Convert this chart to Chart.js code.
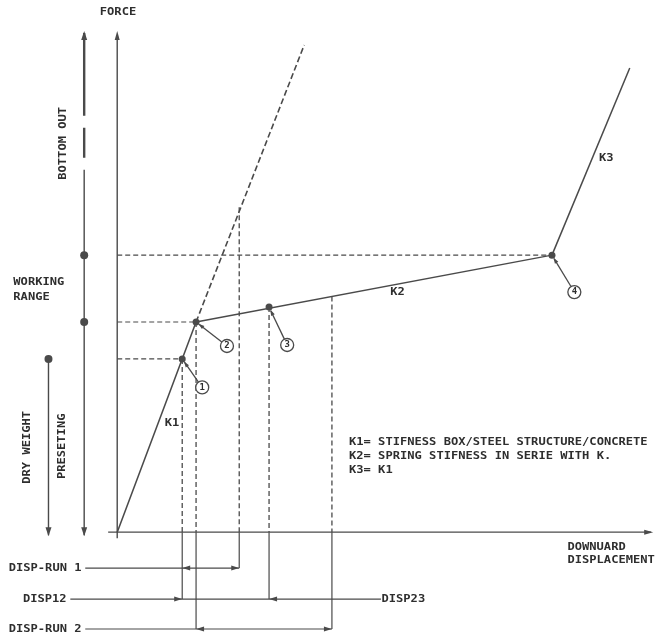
<!DOCTYPE html>
<html>
<head>
<meta charset="utf-8">
<script src="https://cdn.jsdelivr.net/npm/chart.js@4/dist/chart.umd.min.js"></script>
<style>
    html, body { margin: 0; padding: 0; background: #fff; overflow: hidden; }
    canvas { display: block; }
</style>
</head>
<body>
<canvas id="forceChart" width="656" height="639"></canvas>
<script>
// 数据 (位移 / 力, 任意单位)
const pointNames = ['1', '2', '3', '4'];
const pointX = [12.2, 14.8, 28.5, 81.6];
const pointY = [34.7, 42.1, 45.1, 55.5];
const k3End = [96.2, 93.0];
const k1DashEnd = [35.1, 97.6];
const calloutX = [15.95, 20.6, 31.9, 85.8];
const calloutY = [29.0, 37.3, 37.5, 48.1];

// 竖直辅助线
const guideX = [12.2, 14.8, 22.9, 28.5, 40.3];
const guideTop = [34.7, 42.1, 65.1, 45.1, 47.2];
const guideBottom = [-13.4, -19.4, -7.2, -13.4, -19.4];

// 位移标注
const dimLabels = ['DISP-RUN 1', 'DISP12', 'DISP-RUN 2'];
const dimY = [-7.2, -13.4, -19.4];
const dimStart = [-6.0, -8.8, -6.0];
const dimEnd = [22.9, 49.5, 40.3];
const dimFrom = [12.2, 12.2, 14.8];
const dimTo = [22.9, 28.5, 40.3];
const dimOutward = [true, false, true];

// 左侧范围
const rangeX = [-6.2, -12.9];
const bottomOutSegs = [[100, 83.4], [81.0, 75.0], [72.6, -0.6]];
const rangeDots = [55.5, 42.1];
const dryWeightTop = 34.7;

const INK = '#4a4a4a';
const TEXT = '#2e2e2e';

function seg(data, opts = {}) {
    return {
        data: data.map(p => ({ x: p[0], y: p[1] })),
        showLine: true,
        borderColor: INK,
        borderWidth: opts.width || 1.5,
        borderDash: opts.dash || [],
        pointRadius: 0,
        clip: false,
        order: 2
    };
}

const datasets = [];
// 坐标轴
datasets.push(seg([[0, -1.2], [0, 99.6]], { width: 1.4 }));
datasets.push(seg([[-1.7, 0], [100.2, 0]], { width: 1.4 }));
// K1, K2, K3
datasets.push(seg([[0, 0], [pointX[1], pointY[1]]]));
datasets.push(seg([[pointX[1], pointY[1]], [pointX[3], pointY[3]]]));
datasets.push(seg([[pointX[3], pointY[3]], k3End]));
// K1 延长虚线
datasets.push(seg([[pointX[1], pointY[1]], k1DashEnd], { dash: [6, 3], width: 1.6 }));
// 水平虚线
[0, 1, 3].forEach(i => {
    datasets.push(seg([[0, pointY[i]], [pointX[i], pointY[i]]], { dash: [5, 3], width: 1.2 }));
});
// 竖直虚线 + 轴下实线
guideX.forEach((x, i) => {
    datasets.push(seg([[x, guideTop[i]], [x, 0]], { dash: [5, 3], width: 1.3 }));
    datasets.push(seg([[x, 0], [x, guideBottom[i]]], { width: 1.2 }));
});
// 位移标注线
dimY.forEach((y, i) => {
    datasets.push(seg([[dimStart[i], y], [dimEnd[i], y]], { width: 1.2 }));
});
// 左侧范围线
bottomOutSegs.forEach((s, i) => {
    datasets.push(seg([[rangeX[0], s[0]], [rangeX[0], s[1]]], { width: i < 2 ? 2.4 : 1.4 }));
});
datasets.push(seg([[rangeX[1], dryWeightTop], [rangeX[1], -0.6]], { width: 1.4 }));
// 点
datasets.push({
    data: pointX.map((x, i) => ({ x, y: pointY[i] })),
    pointRadius: 3.5,
    pointBackgroundColor: INK,
    pointBorderWidth: 0,
    showLine: false,
    order: 1
});
datasets.push({
    data: rangeDots.map(y => ({ x: rangeX[0], y })).concat([{ x: rangeX[1], y: dryWeightTop }]),
    pointRadius: 4,
    pointBackgroundColor: INK,
    pointBorderWidth: 0,
    showLine: false,
    clip: false,
    order: 1
});

// 注释插件：箭头、编号圆圈、文字
const annotations = {
    id: 'annotations',
    afterDatasetsDraw(chart) {
        const ctx = chart.ctx;
        const xs = chart.scales.x, ys = chart.scales.y;
        const px = v => xs.getPixelForValue(v);
        const py = v => ys.getPixelForValue(v);

        function arrow(x, y, angle, len = 8, half = 3) {
            ctx.save();
            ctx.translate(x, y);
            ctx.rotate(angle);
            ctx.beginPath();
            ctx.moveTo(0, 0);
            ctx.lineTo(-len, -half);
            ctx.lineTo(-len, half);
            ctx.closePath();
            ctx.fillStyle = INK;
            ctx.fill();
            ctx.restore();
        }

        function text(s, x, y, opt = {}) {
            ctx.save();
            ctx.translate(px(x), py(y));
            if (opt.rot) ctx.rotate(opt.rot);
            ctx.scale(opt.sx || 1.1, 1);
            ctx.font = `bold ${opt.size || 11}px "DejaVu Sans Mono"`;
            ctx.fillStyle = TEXT;
            ctx.textAlign = opt.align || 'left';
            ctx.textBaseline = 'middle';
            ctx.fillText(s, 0, 0);
            ctx.restore();
        }

        // 轴箭头
        arrow(px(0), py(100.4), -Math.PI / 2, 9, 2.5);
        arrow(px(100.6), py(0), 0, 9, 2.5);
        arrow(px(rangeX[0]), py(100.4), -Math.PI / 2, 9, 3);
        arrow(px(rangeX[0]), py(-0.8), Math.PI / 2, 9, 3);
        arrow(px(rangeX[1]), py(-0.8), Math.PI / 2, 9, 3);

        // 位移标注箭头
        dimY.forEach((y, i) => {
            const a = px(dimFrom[i]), b = px(dimTo[i]), yy = py(y);
            if (dimOutward[i]) {
                arrow(a, yy, Math.PI, 8, 2.5);
                arrow(b, yy, 0, 8, 2.5);
            } else {
                arrow(a, yy, 0, 8, 2.5);
                arrow(b, yy, Math.PI, 8, 2.5);
            }
        });

        // 编号圆圈
        pointNames.forEach((name, i) => {
            const x0 = px(pointX[i]), y0 = py(pointY[i]);
            const cx = px(calloutX[i]), cy = py(calloutY[i]);
            const dx = cx - x0, dy = cy - y0, d = Math.hypot(dx, dy);
            const r = 6.5;
            ctx.save();
            ctx.strokeStyle = INK;
            ctx.lineWidth = 1.3;
            ctx.beginPath();
            ctx.moveTo(x0 + dx / d * 4, y0 + dy / d * 4);
            ctx.lineTo(cx - dx / d * r, cy - dy / d * r);
            ctx.stroke();
            ctx.restore();
            arrow(x0 + dx / d * 3, y0 + dy / d * 3, Math.atan2(-dy, -dx), 6, 2);
            ctx.save();
            ctx.beginPath();
            ctx.arc(cx, cy, r, 0, Math.PI * 2);
            ctx.fillStyle = '#fff';
            ctx.fill();
            ctx.strokeStyle = INK;
            ctx.lineWidth = 1.3;
            ctx.stroke();
            ctx.restore();
            text(name, calloutX[i], calloutY[i], { align: 'center', size: 9, sx: 1 });
        });

        // 文字
        const up = -Math.PI / 2;
        text('FORCE', 0.15, 104.2, { align: 'center' });
        text('BOTTOM OUT', -10.1, 77.9, { align: 'center', rot: up });
        text('WORKING', -19.5, 50.1);
        text('RANGE', -19.5, 47.1);
        text('DRY WEIGHT', -16.9, 17.0, { align: 'center', rot: up });
        text('PRESETING', -10.3, 17.2, { align: 'center', rot: up });
        text('K1', 10.3, 21.8, { align: 'center' });
        text('K2', 52.6, 48.1, { align: 'center' });
        text('K3', 91.8, 74.9, { align: 'center' });
        text('K1= STIFNESS BOX/STEEL STRUCTURE/CONCRETE', 43.5, 18.0);
        text('K2= SPRING STIFNESS IN SERIE WITH K.', 43.5, 15.2);
        text('K3= K1', 43.5, 12.4);
        text('DOWNUARD', 84.5, -3.0);
        text('DISPLACEMENT', 84.5, -5.6);
        dimLabels.forEach((s, i) => {
            text(s, dimStart[i] - 0.7, dimY[i], { align: 'right' });
        });
        text('DISP23', 49.6, dimY[1]);
    }
};

new Chart(document.getElementById('forceChart').getContext('2d'), {
    type: 'scatter',
    data: { datasets },
    options: {
        responsive: false,
        animation: false,
        events: [],
        layout: { autoPadding: false, padding: { top: 33, bottom: 2, left: 0, right: 6 } },
        scales: {
            x: { type: 'linear', display: false, min: -22, max: 100 },
            y: { type: 'linear', display: false, min: -21, max: 100 }
        },
        plugins: {
            legend: { display: false },
            tooltip: { enabled: false }
        }
    },
    plugins: [annotations]
});
</script>
</body>
</html>
